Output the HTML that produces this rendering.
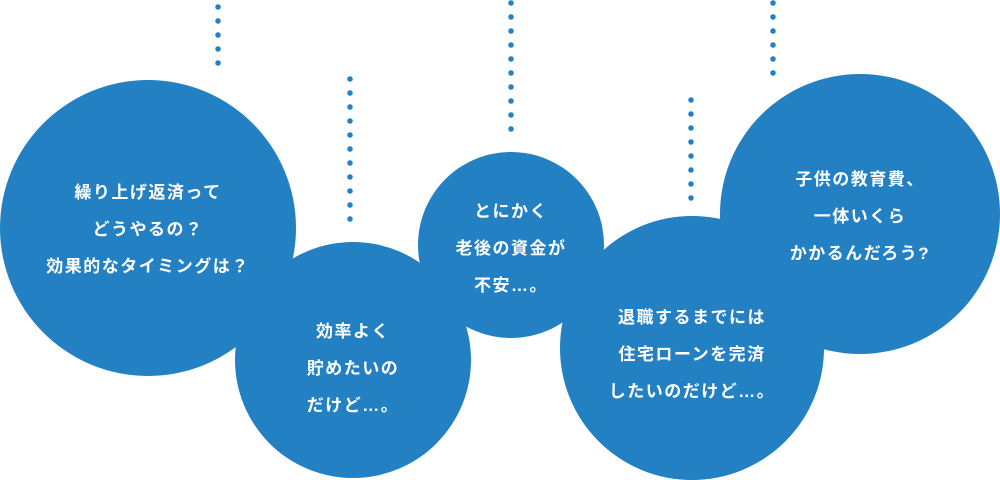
<!DOCTYPE html>
<html><head><meta charset="utf-8"><style>
body{margin:0;width:1000px;height:480px;background:#fff;overflow:hidden;position:relative;font-family:"Liberation Sans","Noto Sans CJK JP",sans-serif}
.c{position:absolute;border-radius:50%;background:#2380c3;color:#fff;display:flex;align-items:center;justify-content:center;text-align:center;font-size:17px;font-weight:bold;line-height:37px;letter-spacing:1.5px}
.d{position:absolute;width:6px;background-image:radial-gradient(circle,#2380c3 2.6px,transparent 2.9px);background-size:6px 14px}
</style></head><body>
<div class="d" style="left:215px;top:0;height:70px"></div>
<div class="d" style="left:347px;top:72px;height:154px"></div>
<div class="d" style="left:508px;top:-4px;height:140px"></div>
<div class="d" style="left:688px;top:93px;height:112px"></div>
<div class="d" style="left:770px;top:-4px;height:84px"></div>
<div class="c" style="left:0;top:80px;width:296px;height:296px"><div style="margin-top:2px">繰り上げ返済って<br>どうやるの？<br>効果的なタイミングは？</div></div>
<div class="c" style="left:235px;top:242px;width:236px;height:236px"><div style="margin-top:16px">効率よく<br>貯めたいの<br>だけど…。</div></div>
<div class="c" style="left:418px;top:152px;width:186px;height:186px"><div style="margin-top:6px">とにかく<br>老後の資金が<br>不安…。</div></div>
<div class="c" style="left:720px;top:74px;width:280px;height:280px"><div style="margin-top:5px">子供の教育費、<br>一体いくら<br>かかるんだろう?</div></div>
<div class="c" style="left:560px;top:216px;width:264px;height:264px"><div style="margin-top:12px">退職するまでには<br>住宅ローンを完済<br>したいのだけど…。</div></div>
</body></html>
